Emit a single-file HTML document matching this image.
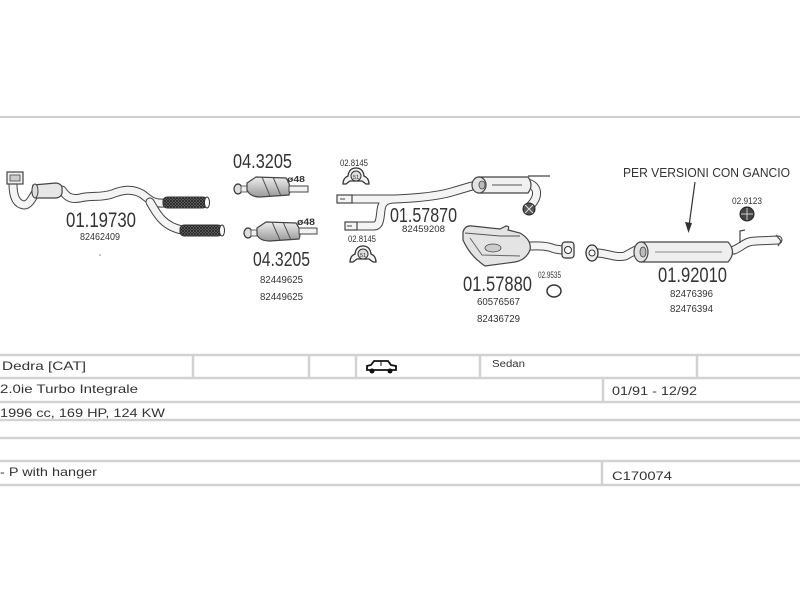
<!DOCTYPE html>
<html><head><meta charset="utf-8">
<style>
html,body{margin:0;padding:0;background:#fff;}
svg{display:block;}
text{font-family:"Liberation Sans",sans-serif;fill:#333;}
</style></head>
<body>
<svg width="800" height="600" viewBox="0 0 800 600" xmlns="http://www.w3.org/2000/svg">
<defs>
<pattern id="hatch" width="3" height="3" patternUnits="userSpaceOnUse">
<rect width="3" height="3" fill="#777"/>
<path d="M0 0L3 3M3 0L0 3" stroke="#222" stroke-width="0.8"/>
</pattern>
<linearGradient id="catg" x1="0" y1="0" x2="0" y2="1">
<stop offset="0" stop-color="#eee"/><stop offset="1" stop-color="#999"/>
</linearGradient>
</defs>
<rect width="800" height="600" fill="#fff"/>
<line x1="0" y1="117" x2="800" y2="117" stroke="#cfcfcf" stroke-width="2"/>

<!-- ===== Part 01.19730 ===== -->
<g fill="none" stroke-linecap="round" stroke-linejoin="round">
<path d="M13 184 C13 196 16 204 24 205 C30 205 33 196 36 192" stroke="#444" stroke-width="9"/>
<path d="M13 184 C13 196 16 204 24 205 C30 205 33 196 36 192" stroke="#f4f4f4" stroke-width="7"/>
<path d="M62 190 C66 196 70 200 80 198 C92 195 100 198 112 194 C122 190 132 188 142 194 C148 198 152 204 164 203" stroke="#444" stroke-width="9"/>
<path d="M62 190 C66 196 70 200 80 198 C92 195 100 198 112 194 C122 190 132 188 142 194 C148 198 152 204 164 203" stroke="#f4f4f4" stroke-width="7"/>
<path d="M150 202 C156 212 162 226 182 230" stroke="#444" stroke-width="9"/>
<path d="M150 202 C156 212 162 226 182 230" stroke="#f4f4f4" stroke-width="7"/>
</g>
<rect x="7" y="172" width="16" height="12" fill="#eee" stroke="#444" stroke-width="1.2"/>
<rect x="10" y="175" width="10" height="6" fill="#ccc" stroke="#444" stroke-width="0.8"/>
<path d="M33 185 L56 183 Q63 184 62 190 Q63 197 56 198 L36 198 Q30 196 33 185Z" fill="#e6e6e6" stroke="#444" stroke-width="1.2"/>
<ellipse cx="35" cy="191" rx="3" ry="7" fill="#ddd" stroke="#444" stroke-width="1"/>
<rect x="163" y="197" width="44" height="11" rx="4" fill="url(#hatch)" stroke="#333" stroke-width="1"/>
<ellipse cx="207" cy="202.5" rx="2.5" ry="5.5" fill="#fff" stroke="#333" stroke-width="1"/>
<rect x="180" y="225" width="42" height="11" rx="4" fill="url(#hatch)" stroke="#333" stroke-width="1"/>
<ellipse cx="222" cy="230.5" rx="2.5" ry="5.5" fill="#fff" stroke="#333" stroke-width="1"/>
<text x="66" y="227" font-size="21" textLength="70" lengthAdjust="spacingAndGlyphs">01.19730</text>
<text x="80" y="240" font-size="10.5" textLength="40" lengthAdjust="spacingAndGlyphs">82462409</text>
<circle cx="100" cy="255" r="0.8" fill="#888"/>

<!-- ===== Cats 04.3205 ===== -->
<text x="233" y="168" font-size="20" textLength="59" lengthAdjust="spacingAndGlyphs">04.3205</text>
<ellipse cx="238" cy="189" rx="4" ry="5" fill="#ddd" stroke="#333" stroke-width="1.2"/>
<rect x="241" y="186" width="6" height="6" fill="#eee" stroke="#444" stroke-width="0.8"/>
<path d="M247 183 L256 177 L286 178 Q292 186 289 195 L260 197 Q250 197 247 190Z" fill="url(#catg)" stroke="#444" stroke-width="1.2"/>
<path d="M262 177 L270 196 M273 177 L281 196" stroke="#555" stroke-width="1"/>
<rect x="289" y="186" width="19" height="6" fill="#f2f2f2" stroke="#444" stroke-width="1"/>
<text x="287" y="182" font-size="8" font-weight="bold" textLength="18" lengthAdjust="spacingAndGlyphs">ø48</text>

<ellipse cx="248" cy="233" rx="4" ry="5" fill="#ddd" stroke="#333" stroke-width="1.2"/>
<rect x="251" y="230" width="6" height="6" fill="#eee" stroke="#444" stroke-width="0.8"/>
<path d="M257 228 L266 222 L296 223 Q302 231 299 239 L270 241 Q260 241 257 235Z" fill="url(#catg)" stroke="#444" stroke-width="1.2"/>
<path d="M272 222 L280 240 M283 222 L291 240" stroke="#555" stroke-width="1"/>
<rect x="299" y="228" width="18" height="6" fill="#f2f2f2" stroke="#444" stroke-width="1"/>
<text x="297" y="225" font-size="9" font-weight="bold" textLength="18" lengthAdjust="spacingAndGlyphs">ø48</text>
<text x="253" y="266" font-size="20" textLength="57" lengthAdjust="spacingAndGlyphs">04.3205</text>
<text x="260" y="283" font-size="10" textLength="43" lengthAdjust="spacingAndGlyphs">82449625</text>
<text x="260" y="300" font-size="10" textLength="43" lengthAdjust="spacingAndGlyphs">82449625</text>

<!-- ===== Clamps 02.8145 ===== -->
<text x="340" y="166" font-size="9" textLength="28" lengthAdjust="spacingAndGlyphs">02.8145</text>
<path d="M343 184 Q343 178 348 176 Q349 168 356 168 Q363 168 364 176 Q369 178 369 184 L366 184 L362 181 L350 181 L346 184Z" fill="#f4f4f4" stroke="#333" stroke-width="1.3"/>
<circle cx="356" cy="176" r="5" fill="#ddd" stroke="#333" stroke-width="1"/>
<text x="353" y="179" font-size="5.5">51</text>

<text x="348" y="242" font-size="9" textLength="28" lengthAdjust="spacingAndGlyphs">02.8145</text>
<path d="M350 262 Q350 256 355 254 Q356 246 363 246 Q370 246 371 254 Q376 256 376 262 L373 262 L369 259 L357 259 L353 262Z" fill="#f4f4f4" stroke="#333" stroke-width="1.3"/>
<circle cx="363" cy="254" r="5" fill="#ddd" stroke="#333" stroke-width="1"/>
<text x="360" y="257" font-size="5.5">51</text>

<!-- ===== Part 01.57870 ===== -->
<g fill="none" stroke-linecap="round" stroke-linejoin="round">
<path d="M352 199 L395 199 C420 198 440 196 455 191 L472 186" stroke="#444" stroke-width="9"/>
<path d="M357 226 L374 226 C380 226 380 218 381 210 C382 202 386 199 395 199" stroke="#444" stroke-width="9"/>
<path d="M352 199 L395 199 C420 198 440 196 455 191 L472 186" stroke="#f4f4f4" stroke-width="7"/>
<path d="M357 226 L374 226 C380 226 380 218 381 210 C382 202 386 199 395 199" stroke="#f4f4f4" stroke-width="7"/>
<path d="M528 183 C538 186 540 196 530 206" stroke="#444" stroke-width="9"/>
<path d="M528 183 C538 186 540 196 530 206" stroke="#f4f4f4" stroke-width="7"/>
</g>
<rect x="337" y="195" width="15" height="8" fill="#f4f4f4" stroke="#444" stroke-width="1.2"/>
<path d="M340 199 L345 199" stroke="#444" stroke-width="1"/>
<rect x="345" y="222" width="12" height="8" fill="#f4f4f4" stroke="#444" stroke-width="1.2"/>
<path d="M347 226 L352 226" stroke="#444" stroke-width="1"/>
<path d="M478 177 L528 177 Q534 185 528 193 L478 193Z" fill="#f0f0f0" stroke="#444" stroke-width="1.2"/>
<line x1="492" y1="185" x2="522" y2="185" stroke="#555" stroke-width="1"/>
<line x1="528" y1="176" x2="550" y2="176" stroke="#444" stroke-width="1.2"/>
<ellipse cx="479" cy="185" rx="7" ry="8" fill="#e2e2e2" stroke="#444" stroke-width="1.2"/>
<ellipse cx="482" cy="185" rx="3" ry="4" fill="#bbb" stroke="#444" stroke-width="0.8"/>
<circle cx="529" cy="209" r="6" fill="#555" stroke="#222" stroke-width="1"/>
<path d="M525 205 L533 213 M533 205 L525 213" stroke="#ddd" stroke-width="1"/>
<text x="390" y="222" font-size="20" textLength="67" lengthAdjust="spacingAndGlyphs">01.57870</text>
<text x="402" y="232" font-size="9" textLength="43" lengthAdjust="spacingAndGlyphs">82459208</text>

<!-- ===== Part 01.57880 ===== -->
<g fill="none" stroke-linecap="round" stroke-linejoin="round">
<path d="M526 246 C538 246 545 245 555 249 L562 250" stroke="#444" stroke-width="9"/>
<path d="M526 246 C538 246 545 245 555 249 L562 250" stroke="#f4f4f4" stroke-width="7"/>
</g>
<path d="M463 232 Q465 225 472 226 L500 229 L506 226 Q510 226 508 230 L520 233 Q532 240 530 250 Q526 260 515 262 L485 266 Q470 256 463 240Z" fill="#e4e4e4" stroke="#444" stroke-width="1.2"/>
<path d="M465 233 L500 236 L520 236" stroke="#555" stroke-width="1" fill="none"/>
<path d="M470 238 L482 255 L520 256" stroke="#666" stroke-width="1" fill="none"/>
<ellipse cx="493" cy="248" rx="8" ry="4" fill="#ccc" stroke="#444" stroke-width="0.8"/>
<rect x="562" y="242" width="12" height="16" rx="3" fill="#eee" stroke="#333" stroke-width="1.2"/>
<circle cx="568" cy="250" r="3.5" fill="#fff" stroke="#333" stroke-width="1"/>
<text x="463" y="291" font-size="21" textLength="69" lengthAdjust="spacingAndGlyphs">01.57880</text>
<text x="477" y="305" font-size="10" textLength="43" lengthAdjust="spacingAndGlyphs">60576567</text>
<text x="477" y="322" font-size="10" textLength="43" lengthAdjust="spacingAndGlyphs">82436729</text>
<text x="538" y="278" font-size="9" textLength="23" lengthAdjust="spacingAndGlyphs">02.9535</text>
<ellipse cx="554" cy="291" rx="7" ry="6" fill="none" stroke="#333" stroke-width="1.5"/>

<!-- ===== Part 01.92010 ===== -->
<text x="623" y="177" font-size="12.5" textLength="167" lengthAdjust="spacingAndGlyphs">PER VERSIONI CON GANCIO</text>
<line x1="695" y1="182" x2="689" y2="226" stroke="#333" stroke-width="1.2"/>
<path d="M685 222 L688.5 233 L692 223Z" fill="#333"/>
<text x="732" y="204" font-size="9" textLength="30" lengthAdjust="spacingAndGlyphs">02.9123</text>
<circle cx="747" cy="214" r="7" fill="#444" stroke="#222" stroke-width="1"/>
<path d="M741 214 L753 214 M747 208 L747 220" stroke="#ccc" stroke-width="1"/>
<g fill="none" stroke-linecap="round" stroke-linejoin="round">
<path d="M598 253 C610 254 615 258 625 256 L636 250" stroke="#444" stroke-width="9"/>
<path d="M598 253 C610 254 615 258 625 256 L636 250" stroke="#f4f4f4" stroke-width="7"/>
<path d="M734 250 C742 247 745 241 756 241 L778 240" stroke="#444" stroke-width="9"/>
<path d="M734 250 C742 247 745 241 756 241 L778 240" stroke="#f4f4f4" stroke-width="7"/>
</g>
<path d="M776 235 L781 241 L778 246" fill="none" stroke="#444" stroke-width="1.2"/>
<path d="M740 243 L740 231 L745 230" fill="none" stroke="#444" stroke-width="1.2"/>
<path d="M640 242 L728 242 Q737 252 728 262 L640 262Z" fill="#efefef" stroke="#444" stroke-width="1.2"/>
<line x1="655" y1="252" x2="722" y2="252" stroke="#666" stroke-width="0.8"/>
<ellipse cx="641" cy="252" rx="7" ry="10" fill="#e2e2e2" stroke="#444" stroke-width="1.2"/>
<ellipse cx="643" cy="252" rx="3" ry="5" fill="#bbb" stroke="#444" stroke-width="0.8"/>
<ellipse cx="592" cy="253" rx="6" ry="8" fill="#eee" stroke="#333" stroke-width="1.3"/>
<circle cx="592" cy="253" r="3" fill="#fff" stroke="#333" stroke-width="1"/>
<text x="658" y="282" font-size="21" textLength="69" lengthAdjust="spacingAndGlyphs">01.92010</text>
<text x="670" y="297" font-size="10" textLength="43" lengthAdjust="spacingAndGlyphs">82476396</text>
<text x="670" y="312" font-size="10" textLength="43" lengthAdjust="spacingAndGlyphs">82476394</text>

<!-- ===== Table ===== -->
<g stroke="#d2d2d2" stroke-width="2.5">
<line x1="0" y1="355" x2="800" y2="355"/>
<line x1="0" y1="378" x2="800" y2="378"/>
<line x1="0" y1="402" x2="800" y2="402"/>
<line x1="0" y1="420" x2="800" y2="420"/>
<line x1="0" y1="438" x2="800" y2="438"/>
<line x1="0" y1="461" x2="800" y2="461"/>
<line x1="0" y1="485" x2="800" y2="485"/>
<line x1="193" y1="355" x2="193" y2="378"/>
<line x1="309" y1="355" x2="309" y2="378"/>
<line x1="356" y1="355" x2="356" y2="378"/>
<line x1="480" y1="355" x2="480" y2="378"/>
<line x1="697" y1="355" x2="697" y2="378"/>
<line x1="603" y1="378" x2="603" y2="402"/>
<line x1="602" y1="461" x2="602" y2="485"/>
</g>
<g font-size="12">
<text x="2" y="370" textLength="84" lengthAdjust="spacingAndGlyphs" fill="#222">Dedra  [CAT]</text>
<text x="0" y="393" textLength="138" lengthAdjust="spacingAndGlyphs" fill="#222">2.0ie Turbo Integrale</text>
<text x="0" y="417" textLength="165" lengthAdjust="spacingAndGlyphs" fill="#222">1996 cc, 169 HP, 124 KW</text>
<text x="0" y="476" textLength="97" lengthAdjust="spacingAndGlyphs" fill="#222">- P with hanger</text>
<text x="612" y="395" textLength="85" lengthAdjust="spacingAndGlyphs" fill="#222">01/91 - 12/92</text>
<text x="612" y="480" textLength="60" lengthAdjust="spacingAndGlyphs" fill="#222">C170074</text>
</g>
<text x="492" y="367" font-size="10" textLength="33" lengthAdjust="spacingAndGlyphs" fill="#222">Sedan</text>
<path d="M367 370 L367 366 L371 365 L374 361 L388 361 L391 365 L396 366 L396 370Z" fill="#fff" stroke="#111" stroke-width="1.8"/>
<line x1="381" y1="361" x2="381" y2="366" stroke="#111" stroke-width="1"/>
<circle cx="372" cy="371" r="2.5" fill="#111"/>
<circle cx="390" cy="371" r="2.5" fill="#111"/>
</svg>
</body></html>
